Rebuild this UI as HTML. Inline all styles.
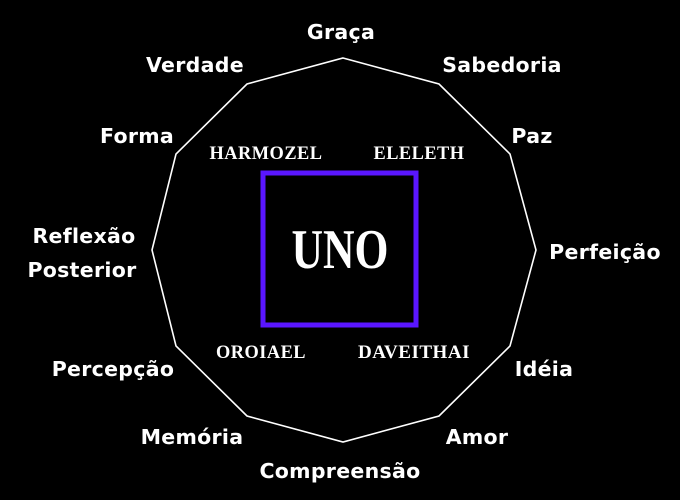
<!DOCTYPE html>
<html><head><meta charset="utf-8"><style>
html,body{margin:0;padding:0;background:#000;width:680px;height:500px;overflow:hidden}
svg{display:block}
.l{font-family:"DejaVu Sans","Liberation Sans",sans-serif;font-size:20.5px;fill:#fff;text-anchor:middle;font-weight:bold;letter-spacing:0.3px}
.g{font-family:"Liberation Serif",serif;font-weight:bold;fill:#fff;text-anchor:middle;font-size:19px;letter-spacing:0.5px}
</style></head><body>
<svg width="680" height="500" viewBox="0 0 680 500" xmlns="http://www.w3.org/2000/svg">
<rect width="680" height="500" fill="#000"/>
<polygon points="343,58 439,84 510,154 536,250 510,346 439,416 343,442 247,416 176,346 152,250 176,154 247,84" fill="none" stroke="#fff" stroke-width="1.6"/>
<rect x="263" y="173" width="153" height="152" fill="none" stroke="#5a16ff" stroke-width="5"/>
<text class="l" x="341" y="39">Graça</text>
<text class="l" x="195" y="72">Verdade</text>
<text class="l" x="502" y="72">Sabedoria</text>
<text class="l" x="137" y="143">Forma</text>
<text class="l" x="532" y="143">Paz</text>
<text class="l" x="84" y="243">Reflexão</text>
<text class="l" x="82" y="277">Posterior</text>
<text class="l" x="605" y="259">Perfeição</text>
<text class="l" x="113" y="376">Percepção</text>
<text class="l" x="544" y="376">Idéia</text>
<text class="l" x="192" y="444">Memória</text>
<text class="l" x="477" y="444">Amor</text>
<text class="l" x="340" y="478">Compreensão</text>
<text class="g" x="266" y="159" textLength="113" lengthAdjust="spacingAndGlyphs">HARMOZEL</text>
<text class="g" x="419" y="159" textLength="91" lengthAdjust="spacingAndGlyphs">ELELETH</text>
<text class="g" x="261" y="358" textLength="90" lengthAdjust="spacingAndGlyphs">OROIAEL</text>
<text class="g" x="414" y="358" textLength="112" lengthAdjust="spacingAndGlyphs">DAVEITHAI</text>
<text x="340" y="268" textLength="97" lengthAdjust="spacingAndGlyphs" style="font-family:'Liberation Serif',serif;font-weight:bold;font-size:56px;fill:#fff;text-anchor:middle">UNO</text>
</svg>
</body></html>
